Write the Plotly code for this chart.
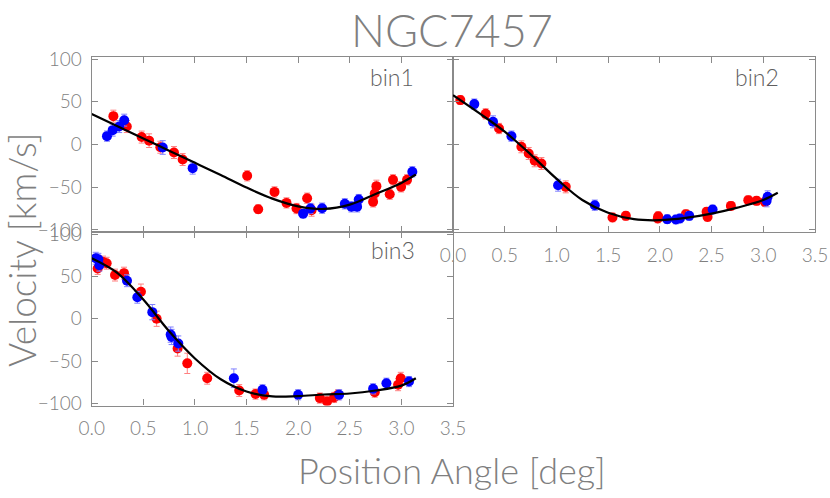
import plotly.graph_objects as go

# ---------------- data ----------------
# bin1
b1_red_x = [0.21, 0.34, 0.484, 0.556, 0.665, 0.797, 0.881, 1.506, 1.613, 1.771, 1.887, 1.984, 2.087, 2.13, 2.726, 2.742, 2.758, 2.887, 2.919, 2.997, 3.055]
b1_red_y = [33.2, 21.0, 8.7, 4.5, -3.2, -9.4, -17.6, -36.7, -75.8, -55.5, -68.4, -75.0, -62.9, -77.0, -67.2, -57.4, -48.8, -58.2, -41.4, -49.6, -41.4]
b1_red_e = [7, 7, 7, 8, 7, 7, 7, 6, 5, 6, 6, 6, 6, 7, 6, 6, 7, 6, 6, 6, 6]
b1_blue_x = [0.148, 0.203, 0.266, 0.315, 0.688, 0.978, 2.048, 2.119, 2.232, 2.452, 2.516, 2.571, 2.587, 3.106]
b1_blue_y = [9.8, 16.8, 21.0, 28.5, -3.5, -27.7, -81.0, -75.0, -74.6, -69.5, -73.0, -73.0, -64.5, -32.0]
b1_blue_e = [6, 7, 7, 7, 8, 7, 5, 6, 6, 6, 6, 6, 6, 6]
b1_curve_x = [0.0, 0.25, 0.5, 0.75, 1.0, 1.25, 1.5, 1.75, 2.0, 2.25, 2.5, 2.75, 3.0, 3.14]
b1_curve_y = [35.6, 21.3, 7.0, -7.2, -21.5, -35.8, -50.5, -63.4, -72.4, -75.5, -70.5, -58.0, -45.0, -35.2]

# bin2
b2_red_x = [0.071, 0.316, 0.445, 0.661, 0.732, 0.79, 0.855, 1.09, 1.542, 1.671, 1.984, 1.98, 2.252, 2.452, 2.461, 2.687, 2.855, 2.935, 3.016]
b2_red_y = [52.0, 35.9, 18.75, -2.7, -10.5, -19.1, -22.3, -49.6, -85.5, -83.6, -84.0, -86.7, -81.6, -78.9, -84.8, -71.9, -65.2, -66.0, -67.2]
b2_red_e = [5, 6, 6, 7, 7, 7, 7, 7, 5, 5, 5, 5, 5, 5, 5, 5, 5, 5, 5]
b2_blue_x = [0.206, 0.387, 0.565, 1.016, 1.371, 2.071, 2.155, 2.194, 2.284, 2.51, 3.032, 3.042]
b2_blue_y = [47.3, 26.6, 9.8, -47.7, -71.1, -87.5, -87.9, -86.7, -83.6, -76.2, -66.0, -61.3]
b2_blue_e = [6, 7, 6, 7, 6, 5, 5, 5, 5, 5, 7, 7]
b2_curve_x = [0.0, 0.25, 0.5, 0.75, 1.0, 1.25, 1.5, 1.75, 2.0, 2.25, 2.5, 2.75, 3.0, 3.14]
b2_curve_y = [57.8, 37.0, 15.0, -11.5, -40.0, -65.0, -80.0, -87.5, -88.7, -86.0, -81.0, -74.0, -65.0, -56.6]

# bin3
b3_red_x = [0.058, 0.11, 0.145, 0.226, 0.313, 0.477, 0.629, 0.832, 0.926, 1.119, 1.429, 1.587, 1.671, 2.21, 2.28, 2.348, 2.387, 2.742, 2.968, 2.994]
b3_red_y = [59.4, 67.0, 65.6, 51.6, 53.9, 32.0, 0.0, -35.2, -52.7, -70.3, -84.8, -89.0, -89.8, -93.75, -97.7, -93.0, -89.8, -86.7, -78.0, -70.3]
b3_red_e = [7, 7, 7, 7, 7, 9, 9, 9, 12, 7, 7, 6, 6, 6, 6, 6, 6, 6, 7, 7]
b3_blue_x = [0.039, 0.065, 0.074, 0.342, 0.442, 0.587, 0.765, 0.774, 0.839, 1.377, 1.655, 2.0, 2.397, 2.726, 2.855, 3.074]
b3_blue_y = [71.5, 70.3, 63.3, 44.9, 25.4, 7.8, -18.75, -21.5, -29.3, -70.3, -84.0, -89.8, -89.8, -82.8, -76.2, -74.2]
b3_blue_e = [7, 7, 7, 7, 7, 9, 9, 9, 9, 11, 6, 6, 6, 6, 6, 6]
b3_curve_x = [0.0, 0.25, 0.5, 0.75, 1.0, 1.25, 1.5, 1.75, 2.0, 2.25, 2.5, 2.75, 3.0, 3.14]
b3_curve_y = [71.5, 54.0, 22.7, -14.8, -46.9, -71.5, -86.0, -91.8, -91.4, -89.5, -88.3, -84.8, -79.0, -70.3]

x_ticks = [0.0, 0.5, 1.0, 1.5, 2.0, 2.5, 3.0, 3.5]
x_tick_labels = ["0.0", "0.5", "1.0", "1.5", "2.0", "2.5", "3.0", "3.5"]
y_ticks = [-100, -50, 0, 50, 100]
bin_labels = ["bin1", "bin2", "bin3"]

# ---------------- style ----------------
FONT = "Lato, DejaVu Sans, sans-serif"
W = 300
TXT = "#7f7f7f"
AX = "#8a8a8a"
RED = "#ff0000"
BLUE = "#0000ff"
RED_E = "#ff8080"
BLUE_E = "#8080ff"

fig = go.Figure()

panels = [
    (b1_red_x, b1_red_y, b1_red_e, b1_blue_x, b1_blue_y, b1_blue_e, b1_curve_x, b1_curve_y, "x", "y"),
    (b2_red_x, b2_red_y, b2_red_e, b2_blue_x, b2_blue_y, b2_blue_e, b2_curve_x, b2_curve_y, "x2", "y2"),
    (b3_red_x, b3_red_y, b3_red_e, b3_blue_x, b3_blue_y, b3_blue_e, b3_curve_x, b3_curve_y, "x3", "y3"),
]

for rx, ry, re_, bx, by, be, cx, cy, xa, ya in panels:
    fig.add_trace(go.Scatter(
        x=rx, y=ry, mode="markers", xaxis=xa, yaxis=ya,
        marker=dict(color=RED, size=10),
        error_y=dict(type="data", array=re_, color=RED_E, thickness=1, width=3),
        showlegend=False))
    fig.add_trace(go.Scatter(
        x=bx, y=by, mode="markers", xaxis=xa, yaxis=ya,
        marker=dict(color=BLUE, size=10),
        error_y=dict(type="data", array=be, color=BLUE_E, thickness=1, width=3),
        showlegend=False))
    fig.add_trace(go.Scatter(
        x=cx, y=cy, mode="lines", xaxis=xa, yaxis=ya,
        line=dict(color="black", width=2.2, shape="spline", smoothing=1.0),
        showlegend=False))

X_L = 91.7 / 830
X_M = 453 / 830
X_R = 815 / 830
Y_T = 1 - 57 / 498
Y_M = 1 - 232 / 498
Y_B = 1 - 405.5 / 498

tickfont = dict(family=FONT, size=19, color=TXT, weight=W)

def xaxis(domain, anchor, labels):
    return dict(domain=domain, anchor=anchor, range=[0, 3.5],
                tickvals=x_ticks, ticktext=x_tick_labels, showticklabels=labels,
                ticks="inside", ticklen=6, tickcolor=AX, tickwidth=1,
                showline=True, linecolor=AX, linewidth=1.2, mirror="ticks",
                showgrid=False, zeroline=False, tickfont=tickfont,
                ticklabelstandoff=6, automargin=False)

def yaxis(domain, anchor, labels):
    return dict(domain=domain, anchor=anchor, range=[-102.5, 102.5],
                tickvals=y_ticks, showticklabels=labels,
                ticks="inside", ticklen=6, tickcolor=AX, tickwidth=1,
                showline=True, linecolor=AX, linewidth=1.2, mirror="ticks",
                showgrid=False, zeroline=False, tickfont=tickfont,
                ticklabelstandoff=5, automargin=False)

fig.update_layout(
    width=830, height=498,
    margin=dict(l=0, r=0, t=0, b=0, pad=0, autoexpand=False),
    paper_bgcolor="white", plot_bgcolor="white",
    xaxis=xaxis([X_L, X_M], "y", False),
    yaxis=yaxis([Y_M, Y_T], "x", True),
    xaxis2=xaxis([X_M, X_R], "y2", True),
    yaxis2=yaxis([Y_M, Y_T], "x2", False),
    xaxis3=xaxis([X_L, X_M], "y3", True),
    yaxis3=yaxis([Y_B, Y_M], "x3", True),
)

annotations = [
    dict(text="NGC7457", x=452 / 830, y=1 - 30 / 498, xref="paper", yref="paper",
         showarrow=False, xanchor="center", yanchor="middle",
         font=dict(family=FONT, size=45, color=TXT, weight=W)),
    dict(text="Position Angle [deg]", x=452 / 830, y=1 - 470 / 498, xref="paper", yref="paper",
         showarrow=False, xanchor="center", yanchor="middle",
         font=dict(family=FONT, size=36, color=TXT, weight=W)),
    dict(text="Velocity [km/s]", x=21 / 830, y=1 - 250 / 498, xref="paper", yref="paper",
         showarrow=False, xanchor="center", yanchor="middle", textangle=-90,
         font=dict(family=FONT, size=37, color=TXT, weight=W)),
    dict(text=bin_labels[0], x=416 / 830, y=1 - 77 / 498, xref="paper", yref="paper",
         showarrow=False, xanchor="right", yanchor="middle",
         font=dict(family=FONT, size=23, color="#5f5f5f", weight=W)),
    dict(text=bin_labels[1], x=781 / 830, y=1 - 77 / 498, xref="paper", yref="paper",
         showarrow=False, xanchor="right", yanchor="middle",
         font=dict(family=FONT, size=23, color="#5f5f5f", weight=W)),
    dict(text=bin_labels[2], x=417 / 830, y=1 - 250 / 498, xref="paper", yref="paper",
         showarrow=False, xanchor="right", yanchor="middle",
         font=dict(family=FONT, size=23, color="#5f5f5f", weight=W)),
]
fig.update_layout(annotations=annotations)

fig.write_html("out.html", config={"displayModeBar": False},
               post_script="document.body.style.margin='0';document.body.style.padding='0';")
